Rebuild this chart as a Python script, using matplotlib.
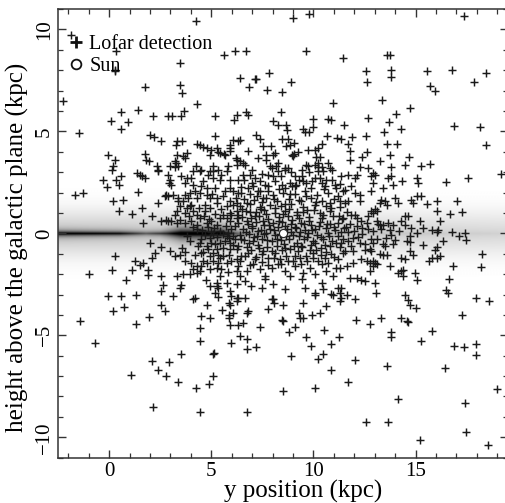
import matplotlib
matplotlib.use("Agg")
import matplotlib.pyplot as plt
import numpy as np
from matplotlib.ticker import MultipleLocator
from matplotlib.lines import Line2D

plt.rcParams['font.family'] = ['Liberation Serif', 'DejaVu Serif']

# Lofar detections (y position kpc, height kpc)
halo_upper = [
    (-2.25, 6.5), (-1.84, 9.74), (-1.48, 4.92), (0.36, 8.92), (0.28, 8.0), (0.3, 7.95), (1.78, 7.16),
    (0.08, 5.49), (0.56, 5.95), (0.92, 5.46), (0.59, 5.13), (1.44, 6.04), (2.15, 5.77), (3.46, 8.35),
    (3.46, 7.29), (3.59, 6.88), (4.24, 10.43), (4.28, 6.34), (2.89, 5.77), (3.1, 5.77), (3.54, 5.77),
    (3.66, 6.01), (5.17, 5.77), (5.63, 8.73), (6.17, 8.92), (6.69, 8.92), (6.43, 7.61), (6.85, 7.2),
    (7.13, 7.58), (6.12, 5.58), (6.28, 5.82), (6.69, 5.95), (6.8, 5.82), (1.99, 4.84), (2.19, 4.71),
    (2.53, 4.54), (3.3, 4.54), (3.26, 4.35), (3.59, 4.51), (4.28, 4.38), (4.44, 4.35), (5.17, 4.75),
    (4.77, 4.18), (5.01, 4.1), (5.34, 3.99), (5.61, 3.89), (5.91, 4.18), (6.07, 4.59), (6.4, 4.59),
    (6.8, 4.02), (7.21, 4.84), (6.27, 3.61), (6.56, 3.45), (-0.05, 3.86), (0.28, 3.61), (0.2, 3.28),
    (0.12, 3.12), (1.75, 3.89), (1.83, 3.61), (2.35, 3.3), (2.97, 3.28), (3.22, 3.53), (3.38, 3.3),
    (3.72, 3.68), (4.24, 3.3), (5.09, 3.3), (5.8, 3.3), (6.4, 3.53),
    (9.0, 10.55), (9.79, 10.77), (17.38, 10.64), (9.63, 8.95), (11.45, 8.59), (13.61, 8.73), (13.77, 8.73),
    (7.83, 7.84), (7.17, 7.55), (7.73, 7.01), (8.47, 6.91), (8.88, 7.42), (12.55, 7.96), (12.6, 7.42),
    (13.82, 8.02), (13.79, 7.66), (15.57, 7.94), (16.76, 8.02), (18.47, 7.86), (17.85, 7.42), (15.7, 7.21),
    (15.94, 7.0), (10.96, 6.39), (13.38, 6.53), (14.72, 6.14), (14.02, 5.87), (12.68, 5.65), (13.69, 5.46),
    (14.28, 5.11), (13.46, 4.97), (12.56, 4.75), (13.58, 4.4), (14.07, 4.4), (11.49, 5.29), (10.67, 4.75),
    (11.16, 4.67), (11.33, 4.62), (11.91, 4.71), (11.7, 4.4), (16.87, 5.25), (18.14, 5.21), (18.44, 4.35),
    (8.4, 5.95), (9.99, 5.6), (10.72, 5.62), (10.84, 5.54), (8.03, 5.49), (8.27, 5.29), (8.68, 5.33),
    (8.71, 5.05), (9.5, 5.13), (9.58, 4.95), (9.99, 5.21), (9.79, 4.95), (7.38, 4.62), (7.51, 4.26),
    (7.92, 4.26), (8.44, 4.62), (8.76, 4.64), (9.06, 4.43), (8.65, 4.26), (7.29, 3.69), (7.7, 3.82),
    (8.03, 3.82), (7.67, 3.61), (8.27, 3.45), (7.95, 3.2), (8.6, 3.2), (8.76, 3.2), (8.93, 3.82),
    (9.06, 3.89), (9.25, 3.97), (9.74, 4.07), (10.07, 4.1), (10.23, 4.18), (10.4, 4.38), (10.15, 3.74),
    (10.31, 3.74), (9.66, 3.37), (10.07, 3.37), (10.23, 3.24), (10.4, 3.24), (10.72, 3.45), (10.8, 3.2),
    (11.78, 4.02), (11.78, 3.58), (12.4, 3.74), (12.6, 3.97), (12.27, 3.25), (12.68, 3.2), (13.25, 3.56),
    (13.74, 3.86), (13.82, 3.24), (14.47, 3.33), (14.67, 3.74), (15.29, 3.32), (15.7, 3.42), (19.16, 2.91),
]

disk_upper = [
    (4.6, 4.22), (4.93, 3.86), (5.29, 4.18), (5.42, 3.94), (5.66, 3.82), (5.91, 4.35), (5.91, 4.02),
    (6.31, 4.51), (6.2, 3.69), (1.96, 3.56), (1.5, 2.88), (2.4, 3.04), (3.26, 3.45), (3.3, 3.86),
    (3.62, 3.77), (3.79, 3.94), (2.97, 2.63), (2.94, 2.47), (3.05, 2.39), (2.81, 1.9), (2.89, 1.81),
    (2.73, 1.81), (3.71, 2.47), (4.03, 2.71), (4.11, 3.04), (4.44, 3.04), (4.52, 2.3), (4.19, 2.06),
    (3.38, 1.73), (3.62, 1.57), (3.71, 1.9), (3.87, 1.73), (3.95, 1.32), (4.28, 1.73), (3.3, 1.08),
    (3.22, 0.92), (3.71, 1.0), (4.11, 1.08), (4.28, 0.92), (4.44, 0.75), (4.68, 1.08), (4.93, 1.24),
    (2.81, 0.67), (3.05, 0.59), (3.46, 0.67), (4.03, 0.59), (4.77, 0.5), (5.01, 0.59), (4.28, 0.43),
    (5.26, 0.43), (5.42, 0.75), (5.58, 0.92), (5.91, 0.59), (5.91, 1.0), (6.24, 0.75), (4.93, 3.04),
    (5.09, 3.04), (5.34, 3.12), (5.5, 2.88), (5.42, 2.63), (5.75, 3.04), (5.91, 2.63), (5.91, 2.22),
    (6.07, 2.06), (5.09, 2.71), (5.17, 2.22), (5.26, 1.73), (5.58, 1.81), (4.93, 1.73), (4.77, 2.22),
    (5.91, 1.57), (6.07, 1.41), (6.24, 1.49), (5.75, 1.32), (6.24, 1.08), (5.99, 0.92),
    (-1.68, 1.9), (-1.27, 1.98), (-0.29, 2.63), (-0.1, 2.25), (0.33, 2.63), (0.56, 2.79), (0.47, 2.39),
    (0.17, 1.6), (0.66, 1.65), (0.49, 1.08), (1.13, 0.97), (1.42, 2.02), (1.39, 2.96), (1.59, 2.79),
    (1.78, 2.71), (2.4, 3.12), (1.62, 1.24), (2.08, 0.83), (1.66, 0.5), (2.4, 1.49), (2.89, 2.88),
    (3.22, 3.24), (3.54, 2.79), (3.13, 1.9), (3.38, 1.57), (3.46, 1.32), (2.56, 0.59), (2.89, 0.59),
    (3.3, 0.5), (3.71, 0.5), (3.79, 1.24), (4.03, 1.41), (3.95, 1.98), (4.11, 2.39), (4.44, 1.98),
    (4.77, 1.9), (4.6, 2.55), (4.85, 2.88), (4.52, 3.12), (3.79, 2.71),
    (6.24, 3.37), (6.64, 3.37), (6.89, 2.88), (6.56, 2.88), (7.78, 2.88), (8.03, 2.79), (8.11, 2.55),
    (8.27, 3.04), (8.11, 3.94), (8.85, 4.35), (9.0, 3.77), (10.23, 3.45), (9.74, 3.28), (9.42, 3.12),
    (9.09, 2.79), (8.6, 3.12), (8.19, 3.28), (7.13, 2.71), (7.38, 2.55), (7.62, 2.39), (7.05, 2.3),
    (6.8, 2.22), (6.31, 2.63), (6.48, 1.98), (7.29, 2.06), (7.78, 2.06), (7.54, 1.73), (8.44, 2.39),
    (8.6, 2.22), (8.85, 2.47), (8.93, 2.3), (9.17, 2.39), (9.42, 2.79), (9.5, 2.55), (9.66, 2.47),
    (9.91, 2.55), (10.07, 2.71), (10.23, 3.04), (10.48, 3.04), (10.64, 2.63), (10.4, 2.47), (10.56, 2.3),
    (10.89, 2.63), (11.05, 2.39), (11.37, 2.79), (11.45, 2.06),
    (12.92, 2.96), (12.84, 2.79), (13.0, 2.88), (12.11, 2.88), (12.03, 2.71), (11.7, 2.84), (11.54, 2.14),
    (11.86, 2.3), (12.03, 1.98), (12.27, 1.9), (11.7, 1.57), (11.54, 1.49), (11.29, 1.57), (12.27, 1.57),
    (12.92, 2.47), (12.84, 2.06), (13.41, 2.22), (13.66, 2.71), (13.82, 2.79), (13.9, 2.39), (15.13, 2.47),
    (14.15, 1.49), (13.98, 1.73), (13.33, 1.65), (13.25, 1.49), (13.49, 1.57), (13.58, 1.41), (13.0, 1.21),
    (12.84, 1.08), (12.92, 1.0), (13.09, 1.08), (11.62, 1.04), (11.86, 0.92), (12.03, 0.88), (12.11, 0.75),
    (11.45, 0.75), (12.35, 0.59), (12.68, 0.83), (12.6, 0.5), (13.09, 0.59), (13.25, 0.43), (13.41, 0.43),
    (13.66, 0.5), (13.74, 0.18), (13.9, 0.43), (14.31, 0.59), (14.47, 0.83), (14.64, 0.83), (14.47, 0.43),
    (14.8, 0.26), (15.78, 0.18), (15.21, 0.59), (16.19, 0.59),
    (17.57, 2.71), (16.51, 2.5), (17.03, 1.6), (17.28, 1.04), (16.68, 0.97), (16.05, 1.08), (16.03, 1.6),
    (15.58, 1.44), (15.29, 1.85), (15.05, 1.85), (14.77, 1.65), (14.88, 1.49), (15.05, 2.71), (14.36, 2.58),
    (16.76, 0.07), (16.1, 0.18), (16.03, 0.07), (15.37, 0.26), (15.05, 0.02), (17.41, 0.02),
]

disk_core = [
    (6.3, 2.0), (6.9, 1.95), (7.4, 2.1), (8.0, 1.9), (8.5, 2.0), (9.1, 1.95), (9.6, 2.1), (10.2, 1.9),
    (10.7, 2.0), (11.2, 1.85), (6.6, 1.7), (7.1, 1.65), (7.7, 1.75), (8.2, 1.6), (8.8, 1.7), (9.3, 1.65),
    (9.9, 1.75), (10.4, 1.6), (11.0, 1.7), (6.4, 1.35), (6.9, 1.45), (7.4, 1.3), (7.9, 1.4), (8.4, 1.35),
    (8.9, 1.45), (9.5, 1.3), (10.1, 1.4), (10.6, 1.35), (11.3, 1.3), (6.7, 1.1), (7.2, 1.05), (7.6, 1.15),
    (8.1, 1.0), (8.6, 1.1), (9.2, 1.05), (9.7, 1.15), (10.3, 1.0), (10.8, 1.1), (6.5, 0.8), (6.95, 0.75),
    (7.35, 0.85), (7.8, 0.7), (8.3, 0.8), (8.75, 0.85), (9.3, 0.75), (9.8, 0.8), (10.4, 0.75),
    (10.95, 0.85), (11.4, 0.7), (6.3, 0.5), (6.8, 0.45), (7.2, 0.55), (7.6, 0.4), (8.0, 0.5), (8.45, 0.55),
    (8.9, 0.45), (9.4, 0.5), (9.9, 0.4), (10.3, 0.55), (10.8, 0.45), (11.2, 0.5), (6.55, 0.2), (7.0, 0.25),
    (7.45, 0.15), (7.9, 0.2), (8.25, 0.3), (8.7, 0.2), (9.15, 0.25), (9.6, 0.15), (10.1, 0.2),
    (10.6, 0.25), (11.05, 0.15), (11.5, 0.25), (6.4, -0.1), (6.85, -0.05), (7.25, -0.15), (7.7, 0.0),
    (8.1, -0.1), (8.9, 0.05), (9.3, -0.15), (9.75, 0.0), (10.2, -0.1), (10.7, 0.0), (11.2, -0.15),
    (6.6, -0.35), (7.05, -0.4), (7.5, -0.3), (7.95, -0.4), (8.4, -0.35), (8.8, -0.3), (9.2, -0.45),
    (9.55, -0.3), (10.0, -0.4), (10.45, -0.3), (10.9, -0.4), (6.3, -0.6), (6.75, -0.65), (7.3, -0.55),
    (7.75, -0.65), (8.2, -0.6), (8.6, -0.7), (9.05, -0.6), (9.45, -0.65), (9.9, -0.55), (10.35, -0.7),
    (10.8, -0.6), (11.3, -0.65), (6.95, -0.8), (7.55, -0.85), (8.45, -0.82), (9.25, -0.88), (10.15, -0.8),
    (10.6, -0.9), (6.6, 2.6), (7.0, 3.1), (7.5, 2.9), (7.9, 3.3), (8.4, 2.8), (8.9, 3.0), (9.3, 2.6),
    (9.8, 3.0), (10.3, 2.7), (10.9, 3.1), (11.3, 2.4), (11.6, 0.3), (12.0, 0.1), (12.4, 0.25), (12.9, 0.1),
    (13.3, 0.2), (13.8, -0.1), (14.2, 0.1), (12.2, -0.2), (13.1, -0.3), (11.8, 0.45), (13.55, -0.25),
    (14.0, -0.35),
    (3.95, -0.38), (4.52, -0.29), (4.93, -0.21), (5.09, -0.05), (5.83, 0.03), (6.07, -0.13),
    (5.17, -0.54), (5.42, -0.46), (5.66, -0.38), (5.91, -0.46), (6.15, -0.29), (5.75, -0.13),
    (5.26, -0.78), (6.24, -0.78), (4.36, -0.62), (4.52, -0.95), (4.93, -1.11), (5.01, -0.46),
    (4.77, -0.62), (5.91, -0.78),
]

disk_core_extra = [
    (4.55, 0.15), (4.7, -0.1), (4.85, 0.3), (5.0, 0.05), (5.15, 0.25), (5.3, -0.2), (5.45, 0.1),
    (5.6, -0.05), (5.7, 0.35), (5.85, -0.25), (5.95, 0.2), (4.65, 0.85), (4.9, 0.7), (5.2, 0.95),
    (5.5, 1.2), (5.75, 0.75), (4.6, -0.9), (4.85, -0.75), (5.1, -0.95), (5.35, -1.05), (5.6, -0.7),
    (5.85, -1.05), (6.05, -0.55),
    (6.15, 0.35), (6.3, 0.9), (6.45, -0.3), (6.5, 1.2), (6.7, 0.05), (6.75, 0.6), (6.85, -0.45),
    (6.9, 1.05), (7.0, 0.35), (7.1, -0.2), (7.15, 0.85), (7.3, 0.1), (7.35, -0.7), (7.45, 1.2),
    (7.55, 0.6), (7.6, -0.05), (7.7, 0.95), (7.75, -0.35), (7.85, 0.4), (7.95, -0.85), (8.05, 0.15),
    (8.1, 1.25), (8.2, -0.3), (8.3, 0.6), (8.35, -0.05), (8.5, 0.95), (8.55, -0.5), (8.6, 0.35),
    (8.65, -0.15), (8.8, 1.2), (8.85, -0.75), (8.95, 0.65), (9.0, -0.1), (9.1, 0.3), (9.2, 0.9),
    (9.35, 0.05), (9.4, -0.6), (9.5, 1.05), (9.55, 0.45), (9.7, -0.2), (9.8, 0.6), (9.85, -0.8),
    (9.95, 0.15), (10.05, 1.15), (10.1, -0.45), (10.25, 0.35), (10.35, -0.2), (10.45, 0.9),
    (10.55, -0.55), (10.65, 0.45), (10.75, -0.15), (10.85, 1.25), (11.0, 0.3), (11.1, -0.45),
    (11.25, 0.85), (11.35, 0.05), (11.45, -0.3),
    (6.2, 1.75), (6.45, 2.25), (6.75, 1.5), (7.0, 2.45), (7.25, 1.85), (7.5, 1.55), (7.8, 2.3),
    (8.05, 1.7), (8.3, 2.15), (8.6, 1.45), (8.85, 1.95), (9.1, 2.3), (9.4, 1.6), (9.65, 1.85),
    (9.9, 2.2), (10.15, 1.55), (10.5, 2.15), (10.8, 1.5), (11.1, 2.2),
    (6.4, -1.35), (6.65, -1.1), (6.9, -1.55), (7.2, -1.15), (7.5, -1.4), (7.8, -1.55), (8.05, -1.2),
    (8.4, -1.5), (8.75, -1.35), (9.1, -1.1), (9.4, -1.5), (9.7, -1.35), (10.0, -1.2), (10.35, -1.05),
    (10.7, -1.45), (11.0, -1.15),
    (4.3, 0.2), (4.45, -0.45), (4.1, 0.3), (3.8, -0.15), (4.2, -1.05), (3.9, 0.85), (4.7, 1.4),
    (4.4, 1.25), (5.3, 1.5), (5.65, 2.1), (5.05, 1.95), (5.8, -1.9), (5.45, -2.1), (4.75, -2.3),
    (4.95, -2.6), (11.7, 0.05), (11.95, -0.25), (12.15, 0.35), (12.4, -0.05), (12.65, 0.2),
    (12.9, -0.45), (13.15, 0.45),
]

disk_lower = [
    (2.0, -0.47), (2.56, -0.69), (2.24, -0.97), (2.08, -1.21), (2.97, -0.88), (3.22, -1.13), (3.46, -1.05),
    (3.59, -0.72), (3.71, -1.37), (0.28, -1.13), (0.12, -1.78), (-0.99, -1.98), (0.85, -2.27), (1.13, -1.78),
    (1.26, -1.37), (1.5, -1.53), (1.66, -1.46), (1.91, -1.78), (1.91, -2.02), (2.53, -2.11), (2.64, -2.52),
    (2.56, -2.84), (3.3, -2.11), (3.54, -2.52), (3.46, -2.68), (3.13, -3.05), (4.19, -3.17), (4.11, -3.24),
    (-0.05, -3.09), (0.57, -3.09), (1.31, -3.0), (0.17, -3.82), (0.73, -3.61), (2.56, -3.5), (2.73, -3.82),
    (3.62, -2.01), (3.71, -0.92),
    (4.03, -1.44), (4.11, -1.76), (4.28, -1.93), (4.44, -1.85), (4.52, -1.6), (4.6, -1.36), (4.77, -1.44),
    (4.93, -1.76), (4.28, -1.6), (3.95, -2.01), (5.34, -1.44), (5.42, -1.19), (5.26, -2.42), (5.34, -2.66),
    (5.17, -2.91), (5.75, -2.42), (5.91, -2.83), (5.99, -3.07), (6.24, -2.5), (5.87, -3.4), (6.24, -3.32),
    (5.09, -1.36), (5.26, -1.68), (5.5, -1.76), (5.58, -1.11), (5.99, -1.36), (5.75, -1.44), (6.24, -1.27),
    (6.24, -1.85), (6.4, -2.09),
    (6.48, -1.11), (6.8, -0.95), (7.13, -1.27), (7.46, -1.03), (7.78, -1.19), (8.11, -0.95), (8.36, -1.27),
    (8.68, -1.11), (9.0, -1.36), (9.33, -1.19), (9.66, -1.11), (9.99, -0.95), (10.23, -1.36), (10.56, -1.19),
    (10.88, -1.03), (11.21, -1.27), (11.45, -0.95), (6.31, -1.6), (6.73, -1.85), (7.05, -1.52),
    (7.38, -1.76), (7.62, -2.09), (7.95, -1.68), (8.27, -1.52), (8.6, -1.85), (8.85, -2.09), (9.09, -1.6),
    (9.5, -1.93), (9.82, -1.68), (10.07, -2.01), (10.4, -1.52), (10.64, -1.85), (10.96, -2.09),
    (11.29, -1.68), (6.64, -2.34), (6.97, -2.58), (7.46, -2.66), (7.62, -2.25), (8.03, -2.5), (8.6, -2.75),
    (9.42, -2.25), (9.58, -2.66), (10.07, -2.91), (10.4, -2.42), (10.48, -2.75), (10.88, -2.99),
    (11.37, -2.66), (6.31, -3.15), (8.03, -3.24), (6.8, -3.81), (7.78, -3.73), (9.5, -4.13),
    (11.54, -0.87), (11.94, -0.87), (12.52, -0.82), (12.76, -0.78), (12.84, -0.87), (13.25, -1.03),
    (14.47, -1.27), (11.94, -1.44), (12.35, -1.27), (12.92, -1.6), (12.79, -1.85), (13.0, -1.44),
    (14.31, -1.85), (14.39, -2.09), (16.03, -1.19), (13.41, -0.54), (13.9, -0.54), (13.49, -0.62),
    (11.86, -0.62), (12.27, -0.46), (12.52, -0.54), (12.84, -0.29), (11.37, -0.46), (11.7, -0.38),
    (14.72, -0.44),
    (16.32, -0.36), (17.12, -0.15), (17.49, -0.34), (14.72, -0.15), (14.56, -0.36), (15.34, -0.59),
    (16.03, -0.69), (15.94, -0.8), (16.19, -1.13), (15.78, -1.21), (15.67, -1.37), (18.23, -1.01),
    (18.19, -1.67), (16.84, -1.58), (16.64, -2.22), (16.51, -2.76), (16.59, -2.92), (17.98, -3.17),
    (18.6, -3.3), (14.47, -3.0), (14.64, -3.25), (14.72, -3.5), (15.0, -3.66), (13.0, -2.43),
    (13.05, -2.92), (13.74, -1.62), (14.39, -1.78), (14.15, -1.94), (14.96, -1.94), (15.05, -2.27),
    (14.72, -0.88), (14.88, -1.05), (14.31, -1.21), (13.41, -1.05), (13.58, -1.05), (12.92, -1.37),
    (13.09, -1.5), (12.76, -1.45), (12.6, -1.34), (11.62, -1.62), (11.13, -1.7), (11.78, -2.19),
    (12.11, -2.19), (12.35, -2.27), (12.52, -2.35), (11.21, -2.68), (11.29, -2.92), (10.96, -3.0),
    (11.62, -3.0), (10.64, -3.58), (10.31, -3.91), (9.91, -3.99), (9.5, -3.42), (10.07, -3.0),
    (8.52, -3.53), (7.95, -3.2), (8.06, -3.42), (9.3, -3.91), (9.33, -4.15), (8.44, -4.23), (11.37, -3.15),
    (11.29, -3.32), (12.03, -3.2),
]

halo_lower = [
    (-1.43, -4.31), (1.34, -4.44), (1.94, -4.1), (4.52, -4.07), (4.93, -4.15), (4.77, -3.5), (5.26, -2.6),
    (5.34, -3.14), (5.55, -3.77), (5.87, -3.99), (5.91, -4.48), (6.31, -4.48), (6.56, -4.4), (6.75, -3.91),
    (5.91, -3.53), (6.27, -3.17), (6.64, -3.17), (4.44, -4.64), (5.87, -4.13), (6.07, -3.91),
    (-0.67, -5.39), (4.44, -5.29), (6.4, -5.05), (6.75, -5.16), (7.18, -5.59), (6.75, -5.67), (5.99, -5.39),
    (3.54, -5.92), (5.09, -5.9), (5.12, -5.86), (2.1, -6.24), (2.4, -6.7), (2.92, -6.32), (1.05, -6.93),
    (2.81, -6.98), (3.38, -7.29), (4.24, -7.58), (4.9, -7.39), (5.09, -6.98), (2.15, -8.53), (4.44, -8.76),
    (6.73, -8.77),
    (7.38, -4.61), (8.52, -4.31), (8.81, -4.85), (9.09, -4.61), (8.89, -6.03), (9.63, -5.1), (9.87, -5.54),
    (10.52, -4.72), (10.88, -5.43), (11.26, -5.1), (10.23, -6.16), (10.48, -5.92), (10.88, -6.68),
    (12.03, -6.19), (11.7, -7.29), (8.52, -7.71), (10.07, -7.58), (12.79, -4.44), (13.82, -4.84),
    (13.79, -5.1), (14.64, -4.36), (15.26, -5.26), (15.8, -4.77), (13.58, -6.52), (14.12, -8.12),
    (12.56, -9.25), (13.63, -9.25), (15.21, -10.11), (16.43, -6.6), (16.87, -5.51), (17.38, -5.57),
    (17.95, -5.41), (17.95, -5.95), (17.41, -8.32), (17.46, -9.74), (18.55, -10.36), (18.99, -7.63),
    (17.25, -3.99), (14.31, -4.15), (14.56, -4.31), (13.33, -4.15), (12.08, -4.23),
]

sun_pos = (8.5, 0.0)

groups = [halo_upper, disk_upper, disk_core, disk_core_extra, disk_lower, halo_lower]
det_x = np.array([p[0] for g in groups for p in g])
det_z = np.array([p[1] for g in groups for p in g])

fig = plt.figure(figsize=(5.06, 5.03), dpi=100)
ax = fig.add_axes([0.1146, 0.0901, 0.8884, 0.892])

# grey-scale disc model behind the points
gx = np.linspace(-2.5, 19.5, 600)
gz = np.linspace(-11, 11, 900)
GX, GZ = np.meshgrid(gx, gz)
thin = np.interp(gx, [-2.5, 0.5, 1.8, 2.8, 3.5, 5.5, 6.2, 7.0, 19.5],
                 [0.95, 0.85, 0.5, 0.7, 1.0, 1.0, 0.5, 0.12, 0.05])
thin_h = np.interp(gx, [-2.5, 1.5, 2.5, 3.5, 5.5, 6.5, 19.5],
                   [0.12, 0.1, 0.1, 0.22, 0.22, 0.12, 0.2])
thick = np.interp(gx, [-2.5, 6, 12, 19.5], [0.2, 0.2, 0.15, 0.13])
dark = thin[None, :] * np.exp(-np.abs(GZ) / thin_h[None, :]) \
    + thick[None, :] * np.exp(-(GZ / 1.1) ** 2)
ax.imshow(np.clip(dark, 0, 1), cmap='gray_r', vmin=0, vmax=1, origin='lower',
          extent=[-2.5, 19.5, -11, 11], aspect='auto', interpolation='bilinear', zorder=0)

ax.plot(det_x, det_z, '+', color='#1a1a1a', markersize=5.4, markeredgewidth=1.05, zorder=2)
ax.plot([sun_pos[0]], [sun_pos[1]], 'o', markerfacecolor='white', markeredgecolor='#222222',
        markersize=5.8, markeredgewidth=0.8, zorder=3)

ax.set_xlim(-2.5, 19.5)
ax.set_ylim(-11, 11)
ax.xaxis.set_major_locator(MultipleLocator(5))
ax.xaxis.set_minor_locator(MultipleLocator(1))
ax.yaxis.set_major_locator(MultipleLocator(5))
ax.yaxis.set_minor_locator(MultipleLocator(1))
ax.tick_params(which='both', direction='in', top=True, right=True, color='#333333', labelsize=15)
ax.tick_params(which='major', length=6, width=1)
ax.tick_params(which='minor', length=3.5, width=0.9)
ax.tick_params(axis='x', pad=3)
ax.tick_params(axis='y', pad=3)
for lab in ax.get_yticklabels():
    lab.set_rotation(90)
    lab.set_va('center')
for sp in ax.spines.values():
    sp.set_color('#333333')
    sp.set_linewidth(1.1)

ax.set_xlabel('y position (kpc)', fontsize=18)
ax.xaxis.set_label_coords(0.545, -0.05)
ax.set_ylabel('height above the galactic plane (kpc)', fontsize=18)
ax.yaxis.set_label_coords(-0.065, 0.468)

handles = [
    Line2D([], [], linestyle='none', marker='+', color='#111111', markersize=9, markeredgewidth=2.0),
    Line2D([], [], linestyle='none', marker='o', markerfacecolor='none', markeredgecolor='#111111',
           markersize=7, markeredgewidth=1.3),
]
ax.legend(handles, ['Lofar detection', 'Sun'], loc='upper left', frameon=False, fontsize=14.5,
          numpoints=1, handlelength=0.6, handletextpad=0.35, borderpad=0, borderaxespad=0,
          labelspacing=0.15, bbox_to_anchor=(0.027, 0.942))

fig.savefig('out.png', dpi=100)
